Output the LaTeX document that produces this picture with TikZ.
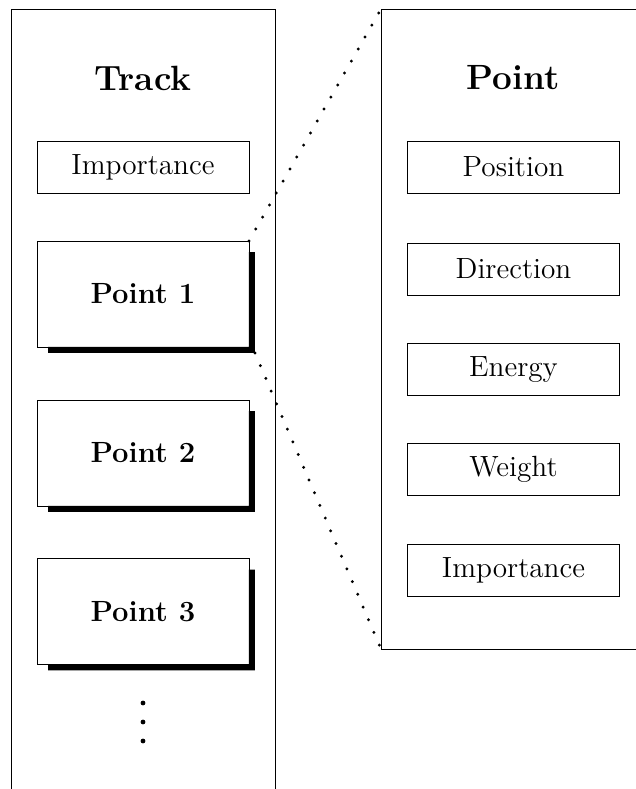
\documentclass[tikz,border=0pt]{standalone}
\usetikzlibrary{calc}
\begin{document}
\begin{tikzpicture}[x=0.4926pt,y=-0.4926pt,
  panel/.style={line width=0.4pt},
  smallbox/.style={draw,line width=0.4pt,inner sep=0pt,outer sep=0pt,minimum width=104.4pt,minimum height=25.6pt,font=\Large},
  pointbox/.style={draw,line width=0.4pt,inner sep=0pt,outer sep=0pt,minimum width=104.4pt,minimum height=52.2pt,font=\Large\bfseries},
  title/.style={anchor=base,font=\LARGE\bfseries,inner sep=0pt},
  zoomline/.style={line width=1.6pt,line cap=round,dash pattern=on 0pt off 6.8pt}]
\useasboundingbox (0,0) rectangle (636,789);
\clip (0,0) rectangle (636,789);
% panels
\coordinate (lt) at (11,9);
\coordinate (rt) at (275,9);
\draw[panel] (11,800) -- (lt) -- (rt) -- (275,800);
\coordinate (rtl) at (381,9);
\coordinate (rbl) at (381,649);
\draw[panel] (650,9) -- (rtl) -- (rbl) -- (650,649);
% titles
\node[title] (track) at (143,90) {Track};
\node[title] (point) at (513,89) {Point};
% left boxes
\node[smallbox] (limp) at (143,167) {Importance};
\node[pointbox] (p1) at (143,294) {Point 1};
\node[pointbox] (p2) at (143,453) {Point 2};
\node[pointbox] (p3) at (143,611.5) {Point 3};
\foreach \n in {p1,p2,p3}{
  \fill ([shift={(0,11)}]\n.north east) -- ([shift={(6,11)}]\n.north east)
    -- ([shift={(6,6)}]\n.south east) -- ([shift={(11,6)}]\n.south west)
    -- ([shift={(11,0)}]\n.south west) -- (\n.south east) -- cycle;
}
% vertical dots
\foreach \y/\m in {703/d1,722/d2,741/d3}{
  \fill (143,\y) circle (2.4) coordinate (\m);
}
% right boxes
\node[smallbox] (pos) at (513.5,167) {Position};
\node[smallbox] (dir) at (513.5,269) {Direction};
\node[smallbox] (ene) at (513.5,369.5) {Energy};
\node[smallbox] (wei) at (513.5,469.5) {Weight};
\node[smallbox] (rimp) at (513.5,570) {Importance};
% zoom lines
\coordinate (p1s) at ([shift={(6,6)}]p1.south east);
\draw[zoomline] (p1.north east) -- (rtl);
\draw[zoomline] (p1s) -- (rbl);
\end{tikzpicture}
\end{document}
